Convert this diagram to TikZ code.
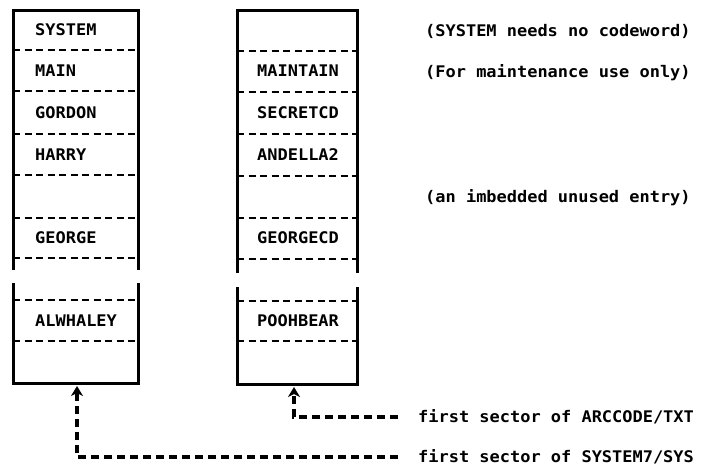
\documentclass[tikz,border=0pt]{standalone}
\usepackage{fontspec}
\newfontfamily\printfont{DejaVu Sans Mono}[FakeStretch=1.06]
\usetikzlibrary{arrows.meta}

\tikzset{
  x=1pt, y=1pt,
  txt/.style={anchor=west, inner sep=0pt, text height=11.7pt, text depth=0pt,
    font=\printfont\bfseries\fontsize{16}{18}\selectfont},
  wall/.style={line width=3pt, line join=miter},
  divider/.style={line width=2.4pt, dash pattern=on 7pt off 4.5pt},
  leader/.style={line width=3.2pt, dash pattern=on 8pt off 5pt,
    -{Stealth[length=10pt,width=12pt,inset=3pt]}},
}

\begin{document}
\begin{tikzpicture}
\useasboundingbox (0,0) rectangle (701,-469);

% ---- directory of user names (left) ----
\draw[wall] (13,-270) -- (13,-10) -- (138,-10) -- (138,-270);
\foreach \y in {50,91,134,175,218,258}
  \draw[divider] (13,-\y) -- (138,-\y);
\draw[wall] (13,-283) -- (13,-383) -- (138,-383) -- (138,-283);
\foreach \y in {300,341}
  \draw[divider] (13,-\y) -- (138,-\y);
\coordinate (namesEnd) at (77,-386);

\node[txt] (n1) at (35,-30)  {SYSTEM};
\node[txt] (n2) at (35,-71)  {MAIN};
\node[txt] (n3) at (35,-113) {GORDON};
\node[txt] (n4) at (35,-155) {HARRY};
\node[txt] (n6) at (35,-238) {GEORGE};
\node[txt] (n9) at (35,-321) {ALWHALEY};

% ---- directory of codewords (right) ----
\draw[wall] (237,-273) -- (237,-10) -- (357,-10) -- (357,-273);
\foreach \y in {51,92,134,176,218,259}
  \draw[divider] (237,-\y) -- (357,-\y);
\draw[wall] (237,-287) -- (237,-384) -- (357,-384) -- (357,-287);
\foreach \y in {301,341}
  \draw[divider] (237,-\y) -- (357,-\y);
\coordinate (codesEnd) at (294,-387);

\node[txt] (c2) at (257,-71)  {MAINTAIN};
\node[txt] (c3) at (257,-113) {SECRETCD};
\node[txt] (c4) at (257,-155) {ANDELLA2};
\node[txt] (c6) at (257,-238) {GEORGECD};
\node[txt] (c9) at (257,-321) {POOHBEAR};

% ---- remarks ----
\node[txt] (r1) at (425,-31)  {(SYSTEM needs no codeword)};
\node[txt] (r2) at (425,-72)  {(For maintenance use only)};
\node[txt] (r5) at (425,-197) {(an imbedded unused entry)};

% ---- pointers to the first sectors ----
\node[txt] (f1) at (418,-417) {first sector of ARCCODE/TXT};
\node[txt] (f2) at (418,-457) {first sector of SYSTEM7/SYS};
\coordinate (f1end) at ([xshift=-20pt]f1.west);
\coordinate (f2end) at ([xshift=-20pt]f2.west);

\draw[leader] (f1end) -| (codesEnd);
\draw[leader] (f2end) -| (namesEnd);
\end{tikzpicture}
\end{document}
